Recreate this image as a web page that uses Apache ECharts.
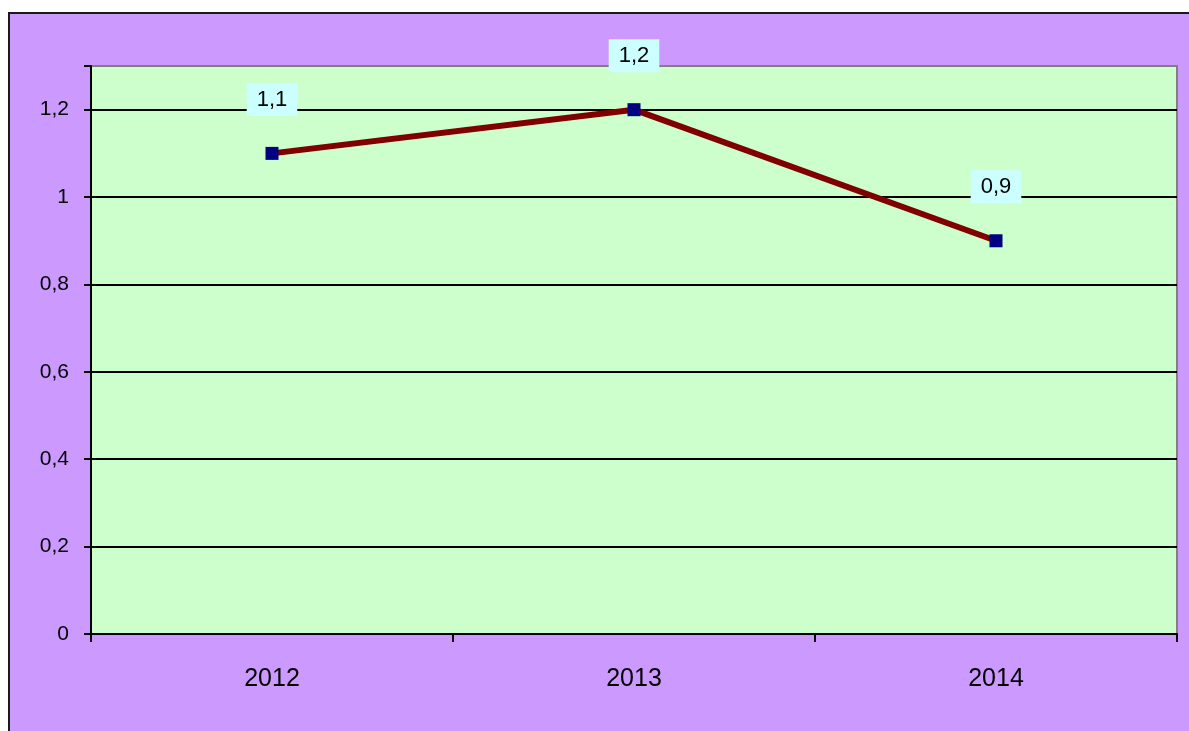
<!DOCTYPE html>
<html>
<head>
<meta charset="utf-8">
<script src="https://cdn.jsdelivr.net/npm/echarts@6/dist/echarts.min.js"></script>
<style>
  html, body { margin: 0; padding: 0; background: #fff; }
  #main { width: 1189px; height: 731px; }
</style>
</head>
<body>
<div id="main"></div>
<script>
// данные
var years = ["2012", "2013", "2014"];
var values = [1.1, 1.2, 0.9];

var chart = echarts.init(document.getElementById("main"));

// последняя линия сетки (1,3) — серая рамка области построения
var splitColors = ["#000", "#000", "#000", "#000", "#000", "#000", "#000", "#808080"];

var option = {
  animation: false,
  textStyle: { fontFamily: "Arial, 'Liberation Sans', sans-serif", color: "#000" },
  graphic: [
    {
      type: "rect",
      z: -10,
      shape: { x: 9, y: 13, width: 1200, height: 740 },
      style: { fill: "#CC99FF", stroke: "#1a1a1a", lineWidth: 2 }
    }
  ],
  grid: {
    left: 91,
    top: 66,
    right: 12,
    bottom: 97,
    show: true,
    backgroundColor: "#CCFFCC",
    borderColor: "#808080",
    borderWidth: 2
  },
  xAxis: {
    type: "category",
    data: years,
    boundaryGap: true,
    axisLine: { lineStyle: { color: "#000", width: 2 } },
    axisTick: { show: true, length: 8, inside: false, lineStyle: { color: "#000", width: 2 } },
    axisLabel: { fontSize: 25, margin: 33, color: "#000" }
  },
  yAxis: {
    type: "value",
    min: 0,
    max: 1.3,
    interval: 0.2,
    axisLine: { show: true, lineStyle: { color: "#000", width: 2 } },
    axisTick: { show: true, length: 7, lineStyle: { color: "#000", width: 2 } },
    axisLabel: {
      fontSize: 21,
      margin: 22,
      color: "#000",
      formatter: function (v) {
        if (v > 1.21) return "";
        return String(Math.round(v * 10) / 10).replace(".", ",");
      }
    },
    splitLine: { show: true, lineStyle: { color: splitColors, width: 2 } }
  },
  series: [
    {
      type: "line",
      data: values,
      symbol: "rect",
      symbolSize: 13,
      itemStyle: { color: "#000080" },
      lineStyle: { color: "#800000", width: 6 },
      label: {
        show: true,
        position: "top",
        distance: 31,
        fontSize: 22,
        color: "#000",
        backgroundColor: "#CCFFFF",
        padding: [6, 10, 5, 10],
        formatter: function (p) {
          return String(p.value).replace(".", ",");
        }
      }
    }
  ]
};

chart.setOption(option);
</script>
</body>
</html>
